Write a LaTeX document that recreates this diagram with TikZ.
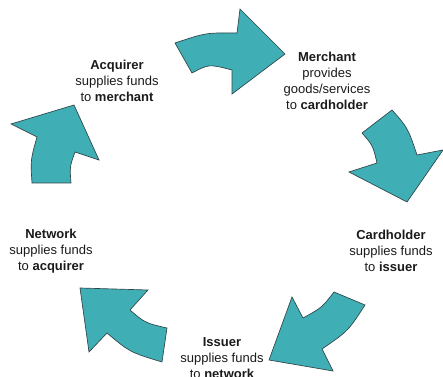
\documentclass[tikz,border=0pt]{standalone}
\usepackage{fontspec}
\setmainfont{Liberation Sans}
\definecolor{teal1}{RGB}{64,174,181}
\definecolor{edge1}{RGB}{46,70,74}
\definecolor{txt}{RGB}{26,26,26}
\begin{document}
\begin{tikzpicture}[x=0.75pt,y=-0.75pt,
  arrowshape/.style={fill=teal1,draw=edge1,line width=0.5pt,line join=miter},
  label/.style={align=center,inner sep=0pt,text=txt,font=\fontsize{9.75pt}{12pt}\selectfont}]
\useasboundingbox (0,0) rectangle (443,377);
% arrow 1 (top)
\draw[arrowshape] (175,43) .. controls (206,32.7) .. (237,33) -- (240,9) -- (285,54) -- (232,94) -- (232,70)
  .. controls (209,64) .. (192,73) -- cycle;
% arrow 2 (upper right)
\draw[arrowshape] (362,133) -- (392,110) .. controls (407.8,127.8) .. (417,155) -- (443,150) -- (407,202) -- (349,172) -- (377,163)
  .. controls (372.8,145.3) .. cycle;
% arrow 3 (lower right)
\draw[arrowshape] (334,292) -- (365,305) .. controls (348.2,331) .. (322,349) -- (333,371) -- (269,360) -- (292,297) -- (303,318)
  .. controls (321.8,307.7) .. cycle;
% arrow 4 (lower left)
\draw[arrowshape] (162,362) -- (167,328) .. controls (145.2,323) .. (130,310) -- (148,290) -- (80,288) -- (89,352) -- (107,333)
  .. controls (129.8,352.2) .. cycle;
% arrow 5 (left)
\draw[arrowshape] (32,183) -- (71,183) .. controls (69.7,166.8) .. (75,152) -- (99,160) -- (74,105) -- (11,124) -- (37,137)
  .. controls (30.5,160) .. cycle;
% labels
\node[label] (acq) at (117,81) {\textbf{Acquirer}\\supplies funds\\to \textbf{merchant}};
\node[label] (mer) at (327,80.5) {\textbf{Merchant}\\provides\\goods/services\\to \textbf{cardholder}};
\node[label] (car) at (391,251) {\textbf{Cardholder}\\supplies funds\\to \textbf{issuer}};
\node[label] (iss) at (222,358) {\textbf{Issuer}\\supplies funds\\to \textbf{network}};
\node[label] (net) at (51,251) {\textbf{Network}\\supplies funds\\to \textbf{acquirer}};
\end{tikzpicture}
\end{document}
